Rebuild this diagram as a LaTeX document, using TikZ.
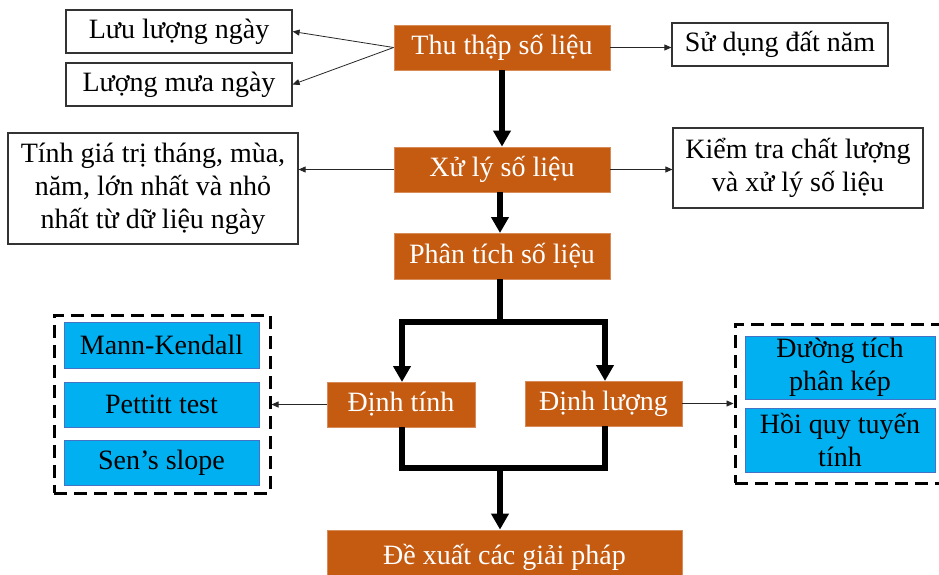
\documentclass[tikz,border=0pt]{standalone}
\usepackage{fontspec}
\setmainfont{Liberation Serif}
\usetikzlibrary{arrows.meta}
\definecolor{orng}{HTML}{C55A11}
\definecolor{sky}{HTML}{00B0F0}
\definecolor{skyedge}{HTML}{4472C4}
\begin{document}
\begin{tikzpicture}[x=1pt,y=-1pt,
  base/.style={inner sep=0pt,align=center,font=\fontsize{28}{33}\selectfont},
  obox/.style={base,fill=orng,text=white,draw=orng!70!white,line width=0.8pt},
  wbox/.style={base,draw=black!80,line width=1.2pt,fill=white},
  bbox/.style={base,fill=sky,draw=skyedge,line width=1pt},
  dbox/.style={draw=black,line width=3pt,dash pattern=on 13pt off 7pt,inner sep=0pt},
  thin/.style={draw=black!85,line width=0.8pt,-{Triangle[width=6pt,length=7pt]}},
  thk/.style={draw=black,line width=5.5pt,line join=miter},
  thka/.style={thk,-{Triangle[width=17pt,length=16pt]}}]
\clip (0,0) rectangle (939,574);
\fill[white] (0,0) rectangle (939,574);
% main chain
\node[obox,minimum width=216pt,minimum height=45pt] (thu) at (502,47.5) {Thu thập số liệu};
\node[obox,minimum width=216pt,minimum height=45pt] (xuly) at (502,169.5) {Xử lý số liệu};
\node[obox,minimum width=216pt,minimum height=46pt] (phan) at (502,256) {Phân tích số liệu};
\node[obox,minimum width=148pt,minimum height=45pt] (dtinh) at (401,404.5) {Định tính};
\node[obox,minimum width=157pt,minimum height=45pt] (dluong) at (603.5,403.5) {Định lượng};
\node[obox,minimum width=355pt,minimum height=54pt] (dexuat) at (504.5,557) {Đề xuất các giải pháp};
% side boxes
\node[wbox,minimum width=226pt,minimum height=43pt] (luu) at (179,31.5) {Lưu lượng ngày};
\node[wbox,minimum width=226pt,minimum height=43pt] (mua) at (179,84.5) {Lượng mưa ngày};
\node[wbox,minimum width=216pt,minimum height=43pt] (sudung) at (780,44.5) {Sử dụng đất năm};
\node[wbox,minimum width=290pt,minimum height=111pt] (tinh) at (153,188.5) {Tính giá trị tháng, mùa,\\năm, lớn nhất và nhỏ\\nhất từ dữ liệu ngày};
\node[wbox,minimum width=250pt,minimum height=80pt] (kiem) at (798,168) {Kiểm tra chất lượng\\và xử lý số liệu};
% dashed groups
\node[dbox,minimum width=216pt,minimum height=178pt] (gl) at (162,404) {};
\node[bbox,minimum width=195pt,minimum height=46pt] (mk) at (161.5,345) {Mann-Kendall};
\node[bbox,minimum width=195pt,minimum height=45pt] (pt) at (161.5,404.5) {Pettitt test};
\node[bbox,minimum width=195pt,minimum height=45pt] (sen) at (161.5,462.5) {Sen’s slope};
\node[dbox,minimum width=215pt,minimum height=159pt] (gr) at (842.5,403.5) {};
\node[bbox,minimum width=190pt,minimum height=63pt,font=\fontsize{28}{33}\selectfont] (dtp) at (840,367.5) {Đường tích\\phân kép};
\node[bbox,minimum width=190pt,minimum height=64pt,font=\fontsize{28}{33}\selectfont] (hq) at (840,440) {Hồi quy tuyến\\tính};
% thin arrows
\draw[thin] (thu.west) -- (luu.east);
\draw[thin] (thu.west) -- (mua.east);
\draw[thin] (thu.east) -- (sudung.west |- thu.east);
\draw[thin] (xuly.west) -- (tinh.east |- xuly.west);
\draw[thin] (xuly.east) -- (kiem.west |- xuly.east);
\draw[thin] (dtinh.west) -- (gl.east |- dtinh.west);
\draw[thin] (dluong.east) -- (gr.west |- dluong.east);
% thick connectors
\coordinate (split) at (500,322);
\coordinate (join) at (500,468);
\draw[thka] (thu.south) -- (xuly.north);
\draw[thka] (500,192) -- (500,233);
\draw[thk] (500,279) -- (split);
\draw[thka] (split) -| (402,382);
\draw[thka] (split) -| (605,381);
\draw[thk] (402,427) |- (join) -| (605,426);
\draw[thka] (join) -- (dexuat.north -| join);
\end{tikzpicture}
\end{document}
